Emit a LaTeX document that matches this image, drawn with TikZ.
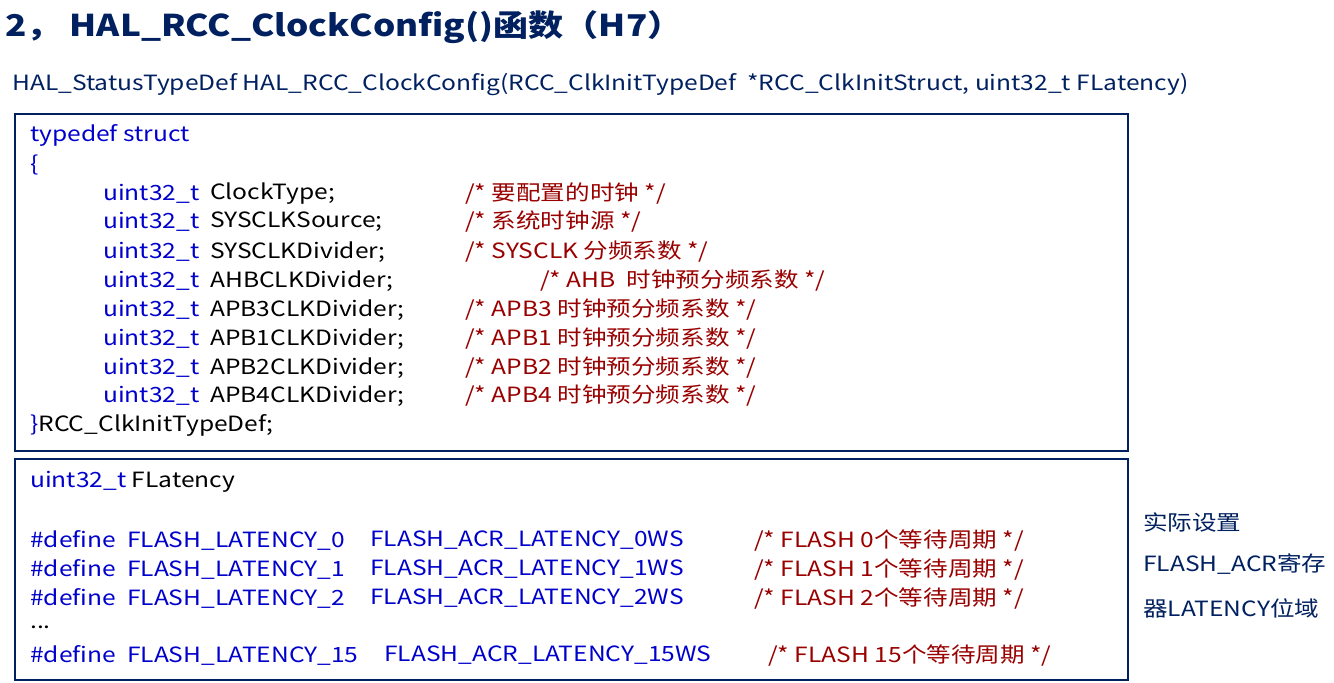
\documentclass[tikz,border=0pt]{standalone}
\usepackage{fontspec}
\setmainfont{Noto Sans CJK SC}[FakeStretch=1.17]
\usetikzlibrary{positioning}
\definecolor{navy}{RGB}{0,32,96}
\definecolor{kwblue}{RGB}{0,0,204}
\definecolor{cmred}{RGB}{153,0,0}
\tikzset{
  txt/.style={anchor=west, inner sep=0pt, font=\fontsize{21}{24}\selectfont},
  kw/.style={txt, text=kwblue},
  cmt/.style={txt, text=cmred},
  codebox/.style={draw=navy, line width=1.2pt}
}
\begin{document}
\begin{tikzpicture}[x=1pt,y=-1pt]
        \useasboundingbox (0,0) rectangle (1334,683);
        % Title
        \node[txt, text=navy, font=\fontsize{30}{34}\selectfont\bfseries] (title) at (5,27) {2，~HAL\_RCC\_ClockConfig()函数（H7）};
        \node[txt, text=navy, font=\fontsize{21}{24}\selectfont] (proto) at (12,85) {HAL\_StatusTypeDef HAL\_RCC\_ClockConfig(RCC\_ClkInitTypeDef~~*RCC\_ClkInitStruct, uint32\_t FLatency)};

        % Boxes
        \draw[codebox] (15,114) rectangle (1128,451);
        \draw[codebox] (15,459) rectangle (1128,680);

        % Struct
        \node[kw] (tdef) at (30,135) {typedef struct};
        \node[kw] (lbr) at (30,165) {\{};
        \foreach \y/\f/\c/\cx [count=\i] in {
            194/ClockType;/要配置的时钟/465,
            222/SYSCLKSource;/系统时钟源/465,
            252/SYSCLKDivider;/SYSCLK 分频系数/465,
            281/AHBCLKDivider;/AHB~~时钟预分频系数/540,
            310/APB3CLKDivider;/APB3 时钟预分频系数/465,
            339/APB1CLKDivider;/APB1 时钟预分频系数/465,
            368/APB2CLKDivider;/APB2 时钟预分频系数/465,
            396/APB4CLKDivider;/APB4 时钟预分频系数/465} {
          \node[kw] (ty\i) at (103,\y) {uint32\_t};
          \node[txt] (fd\i) at (210,\y) {\f};
          \node[cmt] (cm\i) at (\cx,\y) {/* \c\ */};
        }
        \node[txt] (rbr) at (30,425) {\textcolor{kwblue}{\}}RCC\_ClkInitTypeDef;};

        % FLatency
        \node[txt] (flat) at (30,482) {\textcolor{kwblue}{uint32\_t} FLatency};
        \foreach \y/\n [count=\i] in {540/0, 569/1, 598/2} {
          \node[kw] (def\i) at (30,\y) {\#define~~FLASH\_LATENCY\_\n};
          \node[kw] (acr\i) at (370,\y) {FLASH\_ACR\_LATENCY\_\n WS};
          \node[cmt] (fc\i) at (754,\y) {/* FLASH \n 个等待周期 */};
        }
        \node[txt] (dots) at (30,627) {...};
        \node[kw] (def4) at (30,655) {\#define~~FLASH\_LATENCY\_15};
        \node[kw] (acr4) at (384,655) {FLASH\_ACR\_LATENCY\_15WS};
        \node[cmt] (fc4) at (768,655) {/* FLASH 15个等待周期 */};

        % Note
        \node[txt, text=navy] (note1) at (1143,522) {实际设置};
        \node[txt, text=navy] (note2) at (1143,564) {FLASH\_ACR寄存};
        \node[txt, text=navy] (note3) at (1143,608) {器LATENCY位域};
\end{tikzpicture}
\end{document}
